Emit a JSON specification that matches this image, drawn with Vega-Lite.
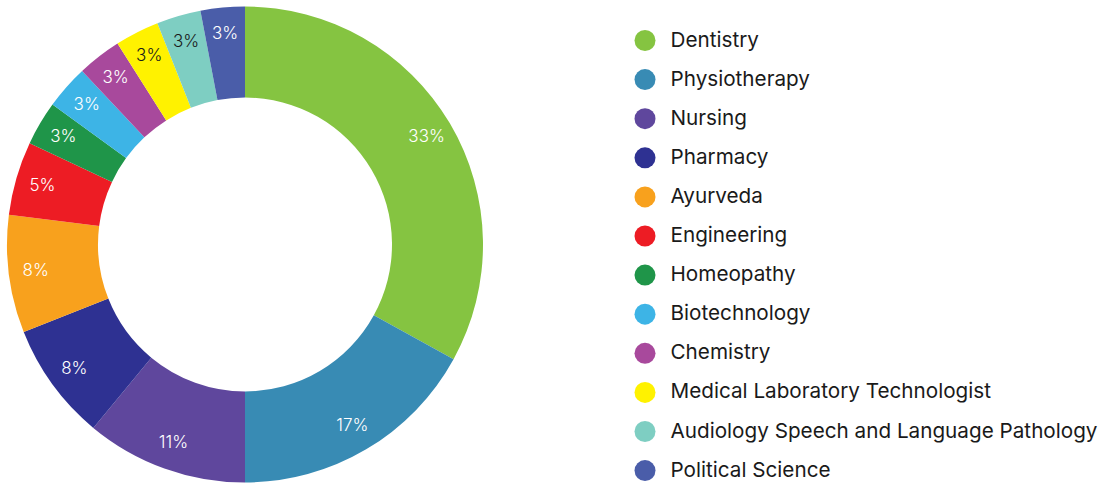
{
  "$schema": "https://vega.github.io/schema/vega-lite/v6.json",
  "width": 490,
  "height": 489,
  "padding": 0,
  "background": "white",
  "config": {"view": {"stroke": null}},
  "data": {
    "values": [
      {"idx": 1, "category": "Dentistry", "value": 33, "label": "33%"},
      {"idx": 2, "category": "Physiotherapy", "value": 17, "label": "17%"},
      {"idx": 3, "category": "Nursing", "value": 11, "label": "11%"},
      {"idx": 4, "category": "Pharmacy", "value": 8, "label": "8%"},
      {"idx": 5, "category": "Ayurveda", "value": 8, "label": "8%"},
      {"idx": 6, "category": "Engineering", "value": 5, "label": "5%"},
      {"idx": 7, "category": "Homeopathy", "value": 3, "label": "3%"},
      {"idx": 8, "category": "Biotechnology", "value": 3, "label": "3%"},
      {"idx": 9, "category": "Chemistry", "value": 3, "label": "3%"},
      {"idx": 10, "category": "Medical Laboratory Technologist", "value": 3, "label": "3%"},
      {"idx": 11, "category": "Audiology Speech and Language Pathology", "value": 3, "label": "3%"},
      {"idx": 12, "category": "Political Science", "value": 3, "label": "3%"}
    ]
  },
  "encoding": {
    "theta": {"field": "value", "type": "quantitative", "stack": true},
    "order": {"field": "idx", "type": "quantitative"}
  },
  "layer": [
    {
      "mark": {"type": "arc", "outerRadius": 238, "innerRadius": 147},
      "encoding": {
        "color": {
          "field": "category",
          "type": "nominal",
          "sort": ["Dentistry", "Physiotherapy", "Nursing", "Pharmacy", "Ayurveda", "Engineering", "Homeopathy", "Biotechnology", "Chemistry", "Medical Laboratory Technologist", "Audiology Speech and Language Pathology", "Political Science"],
          "scale": {
            "domain": ["Dentistry", "Physiotherapy", "Nursing", "Pharmacy", "Ayurveda", "Engineering", "Homeopathy", "Biotechnology", "Chemistry", "Medical Laboratory Technologist", "Audiology Speech and Language Pathology", "Political Science"],
            "range": ["#85c441", "#388bb4", "#5f479d", "#2e3192", "#f8a11d", "#ed1c24", "#1f9549", "#3db4e6", "#a8499c", "#fff200", "#7ecec2", "#4a5da9"]
          },
          "legend": {
            "orient": "none",
            "legendX": 634.5,
            "legendY": 30,
            "title": null,
            "padding": 0,
            "symbolType": "circle",
            "symbolSize": 441,
            "symbolStrokeWidth": 0,
            "labelFont": "Inter",
            "labelFontSize": 20.7,
            "labelColor": "#1a1a1a",
            "labelOffset": 15,
            "labelLimit": 0,
            "rowPadding": 17.1
          }
        }
      }
    },
    {
      "mark": {"type": "text", "radius": 211, "font": "Inter", "fontSize": 17, "fontWeight": 300},
      "encoding": {
        "text": {"field": "label", "type": "nominal"},
        "color": {
          "condition": {"test": "datum.category === 'Medical Laboratory Technologist' || datum.category === 'Audiology Speech and Language Pathology'", "value": "#1a1a1a"},
          "value": "white"
        }
      }
    }
  ]
}
